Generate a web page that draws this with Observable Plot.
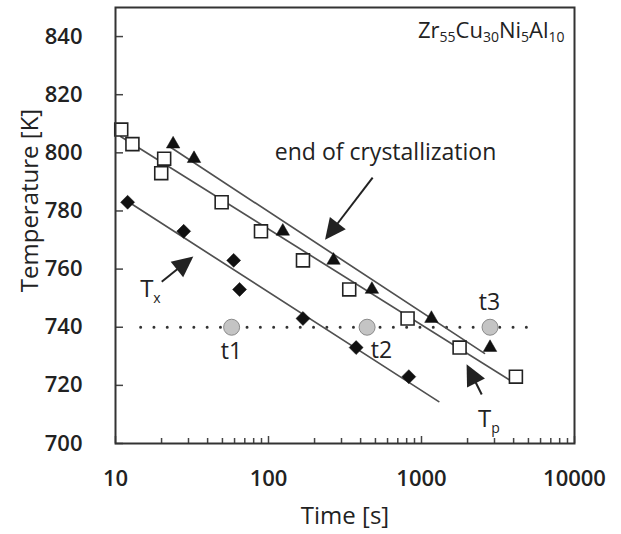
<!DOCTYPE html>
<html><head><meta charset="utf-8">
<script src="https://cdn.jsdelivr.net/npm/d3@7"></script>
<script src="https://cdn.jsdelivr.net/npm/@observablehq/plot@0.6"></script>
<style>body{margin:0;background:#fff}</style>
</head><body><div id="chart"></div>
<script>
// Tp (open squares)
const tpTime = [10.9, 12.9, 20.8, 19.9, 49.4, 89.3, 168, 337, 811, 1774, 4140];
const tpTemp = [808, 803, 798, 793, 783, 773, 763, 753, 743, 733, 723];
// end of crystallization (filled triangles)
const endTime = [23.8, 32.6, 124, 266, 474, 1161, 2805];
const endTemp = [803, 798, 773, 763, 753, 743, 733];
// Tx (filled diamonds)
const txTime = [12.0, 27.9, 59.2, 64.7, 168, 374, 826];
const txTemp = [783, 773, 763, 753, 743, 733, 723];
// isothermal points t1, t2, t3
const isoTime = [57.4, 441, 2805];
const isoTemp = [740, 740, 740];
// dotted isotherm
const isoLineTime = [14.6, 5290];
const isoLineTemp = [740, 740];
// fit lines
const endFitTime = [22.9, 2580], endFitTemp = [801.9, 731.0];
const tpFitTime = [10.8, 3917], tpFitTemp = [805.6, 721.3];
const txFitTime = [11.9, 1297], txFitTemp = [783.4, 714.4];
// arrows
const arrowTailTime = [483, 20.2, 2494], arrowTailTemp = [791.3, 755.5, 716.7];
const arrowTipTime = [236, 32.5, 1986], arrowTipTemp = [769.9, 764.2, 727.1];
// labels
const plainLabels = ["end of crystallization", "t1", "t2", "t3"];
const plainLabelTime = [582, 57.3, 548, 2780];
const plainLabelTemp = [800.2, 731.7, 732, 748.3];
const subBase = [["Zr", "Cu", "Ni", "Al"], ["T"], ["T"]];
const subSub = [["55", "30", "5", "10"], ["x"], ["p"]];
const subTime = [955, 14.6, 2360];
const subTemp = [839.5, 750.4, 705.6];
// ticks
const yTicks = [700, 720, 740, 760, 780, 800, 820, 840];
const xMajor = [10, 100, 1000, 10000];
const xMinor = [20,30,40,50,60,70,80,90,200,300,400,500,600,700,800,900,2000,3000,4000,5000,6000,7000,8000,9000];

const ink = "#222";
const W = 621, H = 534, mL = 115, mR = 47, mT = 7, mB = 91;
const frameW = W - mL - mR, frameH = H - mT - mB;
const toRows = (xs, ys) => xs.map((t, i) => ({t, T: ys[i]}));

function arrowsMark(index, {x, y}) {
  const g = d3.create("svg:g");
  arrowTailTime.forEach((_, i) => {
    const x1 = x(arrowTailTime[i]), y1 = y(arrowTailTemp[i]);
    const x2 = x(arrowTipTime[i]), y2 = y(arrowTipTemp[i]);
    const dx = x2 - x1, dy = y2 - y1, L = Math.hypot(dx, dy);
    const ux = dx / L, uy = dy / L, hl = 21, hw = 10;
    const bx = x2 - ux * hl, by = y2 - uy * hl;
    g.append("line").attr("x1", x1).attr("y1", y1).attr("x2", bx + ux * 2).attr("y2", by + uy * 2)
      .attr("stroke", ink).attr("stroke-width", 2);
    g.append("path").attr("d", `M${x2},${y2}L${bx - uy * hw},${by + ux * hw}L${bx + uy * hw},${by - ux * hw}Z`)
      .attr("fill", ink);
  });
  return g.node();
}

function subLabelsMark(index, {x, y}) {
  const g = d3.create("svg:g").attr("font-family", "'Open Sans', sans-serif").attr("fill", ink).attr("text-anchor", "start");
  const mainSize = [22, 24, 24], subSize = [14, 14, 14], shift = [4, 6, 6];
  subBase.forEach((parts, i) => {
    const t = g.append("text").attr("x", x(subTime[i])).attr("y", y(subTemp[i])).attr("text-anchor", "start");
    parts.forEach((p, j) => {
      t.append("tspan").attr("font-size", mainSize[i]).attr("dy", j === 0 ? 0 : -shift[i]).text(p);
      t.append("tspan").attr("font-size", subSize[i]).attr("dy", shift[i]).text(subSub[i][j]);
    });
  });
  return g.node();
}

const chart = Plot.plot({
  width: W, height: H,
  marginLeft: mL, marginRight: mR, marginTop: mT, marginBottom: mB,
  x: {type: "log", domain: [10, 10000]},
  y: {domain: [700, 850]},
  style: {fontFamily: "'Open Sans', sans-serif", background: "#fff", color: ink},
  marks: [
    Plot.axisY({ticks: yTicks, tickSize: 0, tickPadding: 33, fontSize: 22, fontWeight: 600, label: null}),
    Plot.axisX({ticks: xMajor, tickSize: 0, tickPadding: 27, fontSize: 22, fontWeight: 600, tickFormat: d3.format("d"), label: null}),
    Plot.tickY(yTicks, {y: d => d, insetRight: frameW - 8, stroke: "#444", strokeWidth: 1.5}),
    Plot.tickX(xMajor, {x: d => d, insetTop: frameH - 7, stroke: "#444", strokeWidth: 1.5}),
    Plot.tickX(xMinor, {x: d => d, insetTop: frameH - 5, stroke: "#444", strokeWidth: 1.5}),
    Plot.text(["Temperature [K]"], {frameAnchor: "left", rotate: -90, textAnchor: "middle", dx: -85, dy: -25, fontSize: 24, fill: ink}),
    Plot.text(["Time [s]"], {frameAnchor: "bottom", dy: 73, fontSize: 24, fill: ink, lineAnchor: "middle"}),
    Plot.line(toRows(isoLineTime, isoLineTemp), {x: "t", y: "T", stroke: "#333", strokeWidth: 3, strokeDasharray: "0,13.3", strokeLinecap: "round"}),
    Plot.line(toRows(endFitTime, endFitTemp), {x: "t", y: "T", stroke: "#505050", strokeWidth: 1.7}),
    Plot.line(toRows(tpFitTime, tpFitTemp), {x: "t", y: "T", stroke: "#505050", strokeWidth: 1.7}),
    Plot.line(toRows(txFitTime, txFitTemp), {x: "t", y: "T", stroke: "#505050", strokeWidth: 1.7}),
    Plot.dot(toRows(isoTime, isoTemp), {x: "t", y: "T", r: 8, fill: "#c4c4c4", stroke: "#8a8a8a", strokeWidth: 1}),
    Plot.dot(toRows(tpTime, tpTemp), {x: "t", y: "T", symbol: "square", r: 7.3, fill: "#fff", stroke: ink, strokeWidth: 1.6}),
    Plot.dot(toRows(endTime, endTemp), {x: "t", y: "T", symbol: "triangle", r: 5, fill: "#111", stroke: "#111", strokeWidth: 0.5}),
    Plot.dot(toRows(txTime, txTemp), {x: "t", y: "T", symbol: "diamond2", r: 6.3, fill: "#111", stroke: "#111", strokeWidth: 0.5}),
    Plot.text(toRows(plainLabelTime, plainLabelTemp).map((d, i) => ({...d, s: plainLabels[i]})), {x: "t", y: "T", text: "s", fontSize: 23, fill: ink}),
    arrowsMark,
    subLabelsMark,
    Plot.frame({stroke: "#333", strokeWidth: 2})
  ]
});
document.getElementById("chart").appendChild(chart);
</script>
</body></html>
